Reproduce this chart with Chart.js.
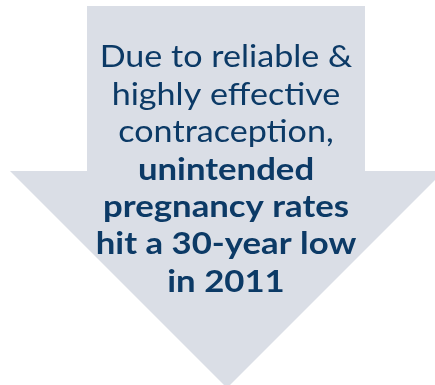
<!DOCTYPE html>
<html>
<head>
<meta charset="utf-8">
<script src="https://cdn.jsdelivr.net/npm/chart.js@4.4.1/dist/chart.umd.min.js"></script>
<style>
  html, body { margin: 0; padding: 0; background: #ffffff; }
  #wrap { width: 435px; height: 385px; }
</style>
</head>
<body>
<div id="wrap"><canvas id="c" width="435" height="385"></canvas></div>
<script>
// Arrow outline vertices (x, y in picture units; y grows downward)
const arrowX = [87, 365, 365, 444, 227, 10, 87, 87];
const arrowY = [6, 6, 171, 171, 388, 171, 171, 6];

// Text lines
const regularLines = ['Due to reliable &', 'highly effective', 'contraception,'];
const boldLines = ['unintended', 'pregnancy rates', 'hit a 30-year low', 'in 2011'];
const firstBaseline = 67.3;
const lineStep = 37.4;
const textCenterX = 226;

const arrowColor = '#dadee6';
const textColor = '#0c3a66';

const points = arrowX.map((x, i) => ({ x: x, y: arrowY[i] }));

const textPlugin = {
  id: 'arrowText',
  afterDatasetsDraw(chart) {
    const ctx = chart.ctx;
    const xs = chart.scales.x, ys = chart.scales.y;
    const cx = xs.getPixelForValue(textCenterX);
    const all = regularLines.map(t => ({ t, bold: false })).concat(boldLines.map(t => ({ t, bold: true })));
    all.forEach((ln, i) => {
      ctx.save();
      ctx.fillStyle = textColor;
      ctx.textAlign = 'center';
      ctx.textBaseline = 'alphabetic';
      ctx.font = (ln.bold ? 'bold ' : '') + '31px Lato';
      ctx.translate(cx, ys.getPixelForValue(firstBaseline + i * lineStep));
      ctx.scale(ln.bold ? 1.12 : 1.1, 1);
      ctx.fillText(ln.t, 0, 0);
      ctx.restore();
    });
  }
};

new Chart(document.getElementById('c'), {
  type: 'scatter',
  data: {
    datasets: [{
      data: points,
      showLine: true,
      fill: 'shape',
      backgroundColor: arrowColor,
      borderColor: arrowColor,
      borderWidth: 0,
      pointRadius: 0,
      tension: 0
    }]
  },
  options: {
    responsive: false,
    animation: false,
    events: [],
    layout: { padding: 0 },
    plugins: { legend: { display: false }, tooltip: { enabled: false }, title: { display: false } },
    scales: {
      x: { type: 'linear', min: 0, max: 435, display: false },
      y: { type: 'linear', min: 0, max: 385, reverse: true, display: false }
    }
  },
  plugins: [textPlugin]
});
</script>
</body>
</html>
